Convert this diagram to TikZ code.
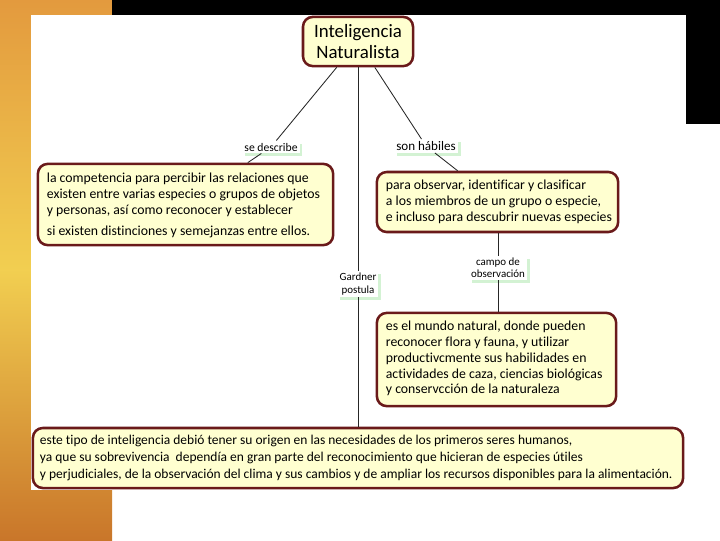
\documentclass[tikz,border=0pt]{standalone}
\usepackage{fontspec}
\setmainfont{Carlito}[Ligatures=NoCommon]
\usepackage{tikz}
\usetikzlibrary{calc,shadows}
\definecolor{mapmaroon}{HTML}{6A1A1A}
\definecolor{mapcream}{HTML}{FFFFD0}
\definecolor{mapgreen}{HTML}{D3F2D3}
\definecolor{mapgoldA}{HTML}{E39A3E}
\definecolor{mapgoldB}{HTML}{C9762A}

\tikzset{
  concept/.style={draw=mapmaroon, fill=mapcream, rounded corners=7pt, line width=1.8pt},
  concepttext/.style={anchor=west, align=left, inner sep=0pt, font=\fontsize{9.8}{11.3}\selectfont},
  linklabel/.style={fill=white, inner sep=1.5pt, align=center, font=\fontsize{7.8}{8.8}\selectfont,
    drop shadow={fill=mapgreen, opacity=1, shadow xshift=2pt, shadow yshift=-2pt}},
  link/.style={draw=black!85, line width=0.6pt}
}

\begin{document}
\begin{tikzpicture}[x=0.025cm,y=-0.025cm]
\useasboundingbox (0,0) rectangle (720,540);

% backdrop
\shade[top color=mapgoldA, bottom color=mapgoldB, middle color=mapgoldA!60!yellow!80!white] (0,0) rectangle (112,540);
\fill[black] (112,0) rectangle (720,15);
\fill[black] (686,0) rectangle (720,124);
\fill[white] (31,15) rectangle (686,490);

\node[concept, minimum width=2.75cm, minimum height=1.23cm, align=center,
  font=\fontsize{13.4}{14.5}\selectfont] (title) at (358,41.5)
  {Inteligencia\\Naturalista};

\node[concept, minimum width=7.38cm, minimum height=2.03cm] (describe) at (185.5,204.5) {};
\node[concepttext] (describetext) at ($(describe.west)+(10,1)$)
  {la competencia para percibir las relaciones que\\
   existen entre varias especies o grupos de objetos\\
   y personas, así como reconocer y establecer\\[4pt]
   si existen distinciones y semejanzas entre ellos.};

\node[concept, minimum width=6.03cm, minimum height=1.5cm] (skills) at (497.5,202) {};
\node[concepttext] (skillstext) at ($(skills.west)+(10,0)$)
  {para observar, identificar y clasificar\\
   a los miembros de un grupo o especie,\\
   e incluso para descubrir nuevas especies};

\node[concept, minimum width=5.98cm, minimum height=2.33cm] (world) at (496.5,359.5) {};
\node[concepttext] (worldtext) at ($(world.west)+(10,-1)$)
  {es el mundo natural, donde pueden\\
   reconocer flora y fauna, y utilizar\\
   productivcmente sus habilidades en\\
   actividades de caza, ciencias biológicas\\
   y conservcción de la naturaleza};

\node[concept, minimum width=16.25cm, minimum height=1.5cm] (origin) at (358,458) {};
\node[concepttext, font=\fontsize{9.6}{12}\selectfont] (origintext) at ($(origin.west)+(8,0)$)
  {este tipo de inteligencia debió tener su origen en las necesidades de los primeros seres humanos,\\
   ya que su sobrevivencia\ \ dependía en gran parte del reconocimiento que hicieran de especies útiles\\
   y perjudiciales, de la observación del clima y sus cambios y de ampliar los recursos disponibles para la alimentación.};

\node[linklabel, font=\fontsize{8.3}{9}\selectfont] (lbldesc) at (271,147) {se describe};
\node[linklabel, font=\fontsize{9.3}{10}\selectfont] (lblskill) at (426,146) {son hábiles};
\node[linklabel] (lblgard) at (358,284) {Gardner\\postula};
\node[linklabel] (lblcampo) at (498,268) {campo de\\observación};

\draw[link] (title) -- (lbldesc);
\draw[link] (lbldesc) -- (describe);
\draw[link] (title) -- (lblskill);
\draw[link] (lblskill) -- (skills);
\draw[link] (title.south) -- (lblgard.north);
\draw[link] (lblgard.south) -- (origin.north);
\draw[link] (lblcampo.north |- skills.south) -- (lblcampo.north);
\draw[link] (lblcampo.south) -- (lblcampo.south |- world.north);
\end{tikzpicture}
\end{document}
